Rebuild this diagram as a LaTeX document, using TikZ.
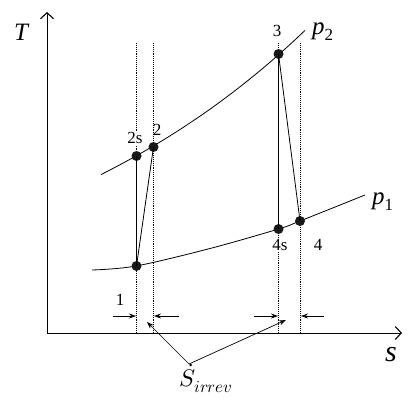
\documentclass[tikz,border=0pt]{standalone}
\usepackage{fontspec}
\setmainfont{Liberation Serif}
\newfontfamily\tms{Liberation Serif}
\usepackage{unicode-math}
\setmathfont{Latin Modern Math}
\usetikzlibrary{arrows.meta}
\begin{document}
\begin{tikzpicture}[x=1pt,y=-1pt,
  pt/.style={circle,fill=black!90,inner sep=0pt,minimum size=10pt},
  dots/.style={densely dotted,line width=0.9pt},
  ax/.style={line width=0.9pt,-{Straight Barb[length=6pt,width=13pt,line width=1.1pt]}},
  curve/.style={line width=0.8pt},
  lbl/.style={font=\tms\fontsize{17}{17}\selectfont,inner sep=1pt},
  big/.style={font=\tms\fontsize{25}{25}\selectfont,inner sep=0pt},
  small/.style={-{Stealth[length=7pt,width=5pt]},line width=0.7pt}]
\useasboundingbox (0,0) rectangle (415,402);
% axes
\coordinate (O) at (47,333);
\coordinate (Ty) at (47,12);
\coordinate (Sx) at (402,333);
\draw[ax] (O) -- (Ty);
\draw[ax] (O) -- (Sx);
\node[big] (T) at (21,32) {\itshape T};
\node[big,font=\tms\fontsize{30}{30}\selectfont] (s) at (391,355) {\itshape s};
% dotted verticals
\coordinate (d1t) at (136.5,43); \coordinate (d1b) at (136.5,333);
\coordinate (d2t) at (153,43); \coordinate (d2b) at (153,333);
\coordinate (d3t) at (278.5,43); \coordinate (d3b) at (278.5,333);
\coordinate (d4t) at (300,43); \coordinate (d4b) at (300,333);
\draw[dots] (d1t) -- (d1b);
\draw[dots] (d2t) -- (d2b);
\draw[dots] (d3t) -- (d3b);
\draw[dots] (d4t) -- (d4b);
% pressure curves
\draw[curve] plot[domain=101:305,samples=60,smooth] ({\x},{333-177*exp(0.00318*(\x-136))});
\draw[curve] plot[smooth,tension=0.55] coordinates {(92,270) (136,266) (210,248.5) (278.5,229) (300,221) (365,195)};
\node[big,anchor=west] (p2) at (312,32) {\itshape p\textsubscript{\upshape\fontsize{17}{17}\selectfont 2}};
\node[big,anchor=west] (p1) at (372,202) {\itshape p\textsubscript{\upshape\fontsize{17}{17}\selectfont 1}};
% points
\node[pt] (n2s) at (136.5,156) {};
\node[pt] (n2) at (153.5,147) {};
\node[pt] (n1) at (136.5,266) {};
\node[pt] (n3) at (278.5,54) {};
\node[pt] (n4s) at (278.5,229) {};
\node[pt] (n4) at (300,221) {};
\draw[line width=0.8pt] (n2s.center) -- (n1.center) -- (n2.center);
\draw[line width=0.8pt] (n3.center) -- (n4s.center);
\draw[line width=0.8pt] (n3.center) -- (n4.center);
% labels
\node[lbl,fill=white] (l2s) at (135,138) {2s};
\node[lbl] (l2) at (157,130) {2};
\node[lbl,fill=white] (l3) at (277,31) {3};
\node[lbl,fill=white] (l4s) at (280,245) {4s};
\node[lbl,fill=white] (l4) at (318,245) {4};
\node[lbl,fill=white] (l1) at (120,300) {1};
% width arrows
\coordinate (a1s) at (113,316); \coordinate (a1e) at (136,316);
\coordinate (a2s) at (179,316); \coordinate (a2e) at (154,316);
\coordinate (a3s) at (254,316); \coordinate (a3e) at (278,316);
\coordinate (a4s) at (324,316); \coordinate (a4e) at (301,316);
\draw[small] (a1s) -- (a1e);
\draw[small] (a2s) -- (a2e);
\draw[small] (a3s) -- (a3e);
\draw[small] (a4s) -- (a4e);
% S irrev
\node[font=\fontsize{24}{24}\selectfont] (Sirr) at (206,378) {$\dot{S}_{irrev}$};
\coordinate (sp) at (189,364);
\coordinate (t1) at (147,322);
\coordinate (t2) at (286,320);
\draw[small] (sp) -- (t1);
\draw[small] (sp) -- (t2);
\end{tikzpicture}
\end{document}
